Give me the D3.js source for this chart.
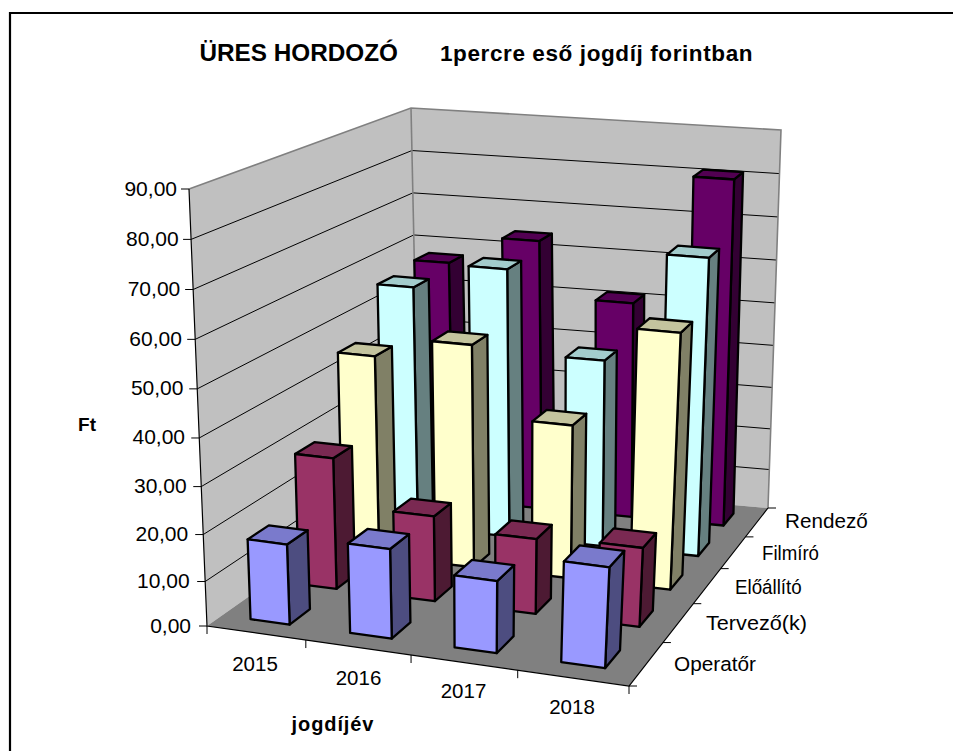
<!DOCTYPE html>
<html><head><meta charset="utf-8">
<style>html,body{margin:0;padding:0;background:#fff}svg{display:block}text{font-family:"Liberation Sans",Arial,sans-serif;fill:#000}</style>
<script src="https://cdn.jsdelivr.net/npm/d3@7"></script>
</head><body><svg id="c" width="953" height="751"></svg>
<script>
const years = ["2015","2016","2017","2018"];
const seriesNames = ["Operatőr","Tervező(k)","Előállító","Filmíró","Rendező"];
const operator = [17.7,19.6,15.8,21.7];
const tervezo = [29.3,19.2,16.9,17.7];
const eloallito = [45.7,50.2,34.8,57];
const filmiro = [56.1,61.9,43.3,68];
const rendezo = [57.3,63.9,51.2,81];
const seriesValues = [operator,tervezo,eloallito,filmiro,rendezo];
const valueTicks = d3.range(0,100,10);
const frontColors = ["#9999FF","#993366","#FFFFCC","#CCFFFF","#660066"];
const sideColors = ["#4D4D80","#4D1A33","#808066","#668080","#330033"];
const topColors = ["#7A7ACC","#7A2952","#C4C49E","#A3CCCC","#520052"];

// Projection frame: corners of the plot cube on screen
const floorQuad = [[207,626],[629,686],[768,508],[419,477]];
const ceilQuad = [[189,189],[654,238],[781,130],[411,108]];
function homography(q){
  const [[x0,y0],[x1,y1],[x2,y2],[x3,y3]] = q;
  const dx1=x1-x2,dx2=x3-x2,sx=x0-x1+x2-x3,dy1=y1-y2,dy2=y3-y2,sy=y0-y1+y2-y3;
  const det=dx1*dy2-dx2*dy1,g=(sx*dy2-dx2*sy)/det,h=(dx1*sy-sx*dy1)/det;
  const a=x1-x0+g*x1,b=x3-x0+h*x3,d=y1-y0+g*y1,e=y3-y0+h*y3;
  return (u,v)=>{const w=g*u+h*v+1;return [(a*u+b*v+x0)/w,(d*u+e*v+y0)/w];};
}
const floorH = homography(floorQuad), ceilH = homography(ceilQuad);
const xWarp = d3.scaleLinear().domain([0,.25,.5,.75,1]).range([0,.2575,.515,.76,1]);
const xBand = d3.scaleBand().domain(years).range([-0.001,0.999]).paddingInner(0.6).paddingOuter(0.3);
const zBand = d3.scaleBand().domain(seriesNames).range([0,1]).paddingInner(0.58).paddingOuter(0.29);
const xStep = d3.scalePoint().domain(d3.range(years.length+1)).range([0,1]);
const zStep = d3.scalePoint().domain(d3.range(seriesNames.length+1)).range([0,1]);
const yScale = d3.scalePow().exponent(1.04).domain([0,90]).range([0,1]);
function P(u,v,val){
  const w=xWarp(u),a=floorH(w,v),b=ceilH(w,v),t=yScale(val);
  return [a[0]+(b[0]-a[0])*t,a[1]+(b[1]-a[1])*t];
}
const svg = d3.select("#c");
const line = d3.line();
const closed = pts => line(pts)+"Z";

svg.append("path").attr("d","M10,751V13H953").attr("fill","none").attr("stroke","#000").attr("stroke-width",2.2);

const wall = "#C0C0C0", edge = "#808080";
// walls and floor
svg.append("path").attr("d",closed([P(0,0,0),P(0,0,90),P(0,1,90),P(0,1,0)])).attr("fill",wall);
svg.append("path").attr("d",closed([P(0,1,0),P(0,1,90),P(1,1,90),P(1,1,0)])).attr("fill",wall);
svg.append("path").attr("d",closed([P(0,0,0),P(1,0,0),P(1,1,0),P(0,1,0)])).attr("fill",edge);
// gridlines
valueTicks.slice(1,-1).forEach(t=>{
  svg.append("path").attr("d",line([P(0,0,t),P(0,1,t),P(1,1,t)])).attr("fill","none").attr("stroke","#000").attr("stroke-width",1);
});
// wall outlines
svg.append("path").attr("d",line([P(0,0,90),P(0,1,90),P(1,1,90),P(1,1,0)])).attr("fill","none").attr("stroke",edge).attr("stroke-width",1.6);
svg.append("path").attr("d",line([P(0,1,90),P(0,1,0)])).attr("fill","none").attr("stroke",edge).attr("stroke-width",1.6);
// floor edges + axes
svg.append("path").attr("d",line([P(0,0,90),P(0,0,0),P(1,0,0),P(1,1,0)])).attr("fill","none").attr("stroke","#000").attr("stroke-width",1.2);

// bars
const g = svg.append("g").attr("stroke","#000").attr("stroke-width",2.3).attr("stroke-linejoin","round");
for(let s=seriesNames.length-1;s>=0;s--){
  years.forEach((yr,i)=>{
    const v=seriesValues[s][i];
    const u0=xBand(yr),u1=u0+xBand.bandwidth(),v0=zBand(seriesNames[s]),v1=v0+zBand.bandwidth();
    g.append("path").attr("d",closed([P(u1,v0,0),P(u1,v1,0),P(u1,v1,v),P(u1,v0,v)])).attr("fill",sideColors[s]);
    g.append("path").attr("d",closed([P(u0,v0,v),P(u1,v0,v),P(u1,v1,v),P(u0,v1,v)])).attr("fill",topColors[s]);
    g.append("path").attr("d",closed([P(u0,v0,0),P(u1,v0,0),P(u1,v0,v),P(u0,v0,v)])).attr("fill",frontColors[s]);
  });
}
// ticks
const tickG = svg.append("g").attr("stroke","#000").attr("stroke-width",1).attr("fill","none");
valueTicks.forEach(t=>{const p=P(0,0,t);tickG.append("line").attr("x1",p[0]-8).attr("x2",p[0]).attr("y1",p[1]).attr("y2",p[1]);});
d3.range(years.length+1).forEach(i=>{const p=P(xStep(i),0,0);tickG.append("line").attr("x1",p[0]).attr("x2",p[0]).attr("y1",p[1]).attr("y2",p[1]+8);});
d3.range(seriesNames.length+1).forEach(i=>{const p=P(1,zStep(i),0);tickG.append("line").attr("x1",p[0]).attr("x2",p[0]+8).attr("y1",p[1]).attr("y2",p[1]);});

// texts
const fmt = d3.format(".2f");
const tickFont = 20.5;
valueTicks.forEach(t=>{const p=P(0,0,t);
  svg.append("text").attr("x",p[0]-12-(90-t)/90*4).attr("y",p[1]+6.5).attr("text-anchor","end").attr("font-size",21).text(fmt(t).replace(".",","));});
const yearPos = [[255,671],[358.5,685],[463.5,698],[572,714]];
years.forEach((y,i)=>svg.append("text").attr("x",yearPos[i][0]).attr("y",yearPos[i][1]).attr("text-anchor","middle").attr("font-size",tickFont).text(y));
const serPos = [[674,670.5,82],[706,629.5,101],[735,594,66.7],[762,559.5,57],[785,528,82.7]];
seriesNames.forEach((n,i)=>svg.append("text").attr("x",serPos[i][0]).attr("y",serPos[i][1]).attr("font-size",tickFont)
  .attr("textLength",serPos[i][2]).attr("lengthAdjust","spacingAndGlyphs").text(n));
svg.append("text").attr("x",87).attr("y",431).attr("text-anchor","middle").attr("font-weight","bold").attr("font-size",19).text("Ft");
svg.append("text").attr("x",333).attr("y",731).attr("text-anchor","middle").attr("font-weight","bold").attr("font-size",20).attr("letter-spacing",0.9).text("jogdíjév");
svg.append("text").attr("x",199.5).attr("y",61).attr("font-weight","bold").attr("font-size",24.3).text("ÜRES HORDOZÓ");
svg.append("text").attr("x",440).attr("y",61).attr("font-weight","bold").attr("font-size",22.5).attr("letter-spacing",0.6).text("1percre eső jogdíj forintban");
</script></body></html>
